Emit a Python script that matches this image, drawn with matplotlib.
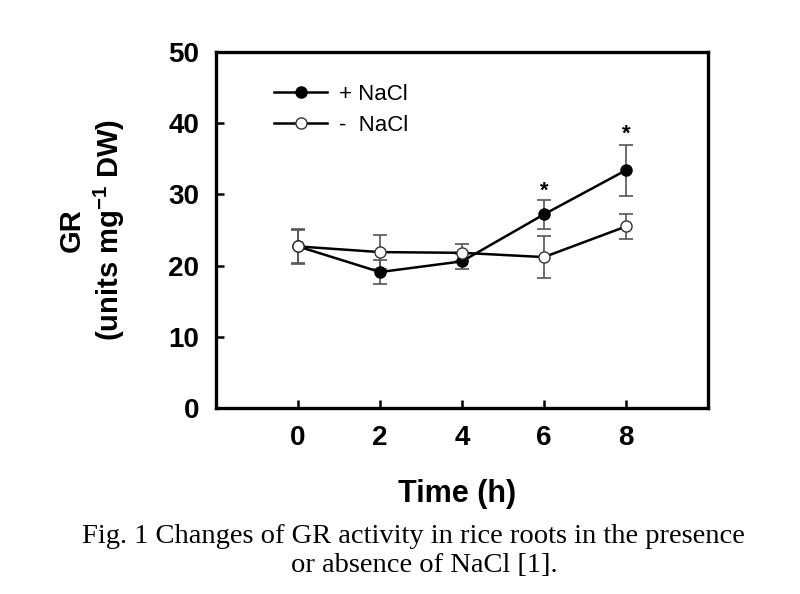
import matplotlib.pyplot as plt

# data
time_h = [0, 2, 4, 6, 8]
gr_plus = [22.7, 19.1, 20.6, 27.2, 33.4]
err_plus = [2.3, 1.7, 1.1, 2.0, 3.6]
gr_minus = [22.7, 21.9, 21.8, 21.2, 25.5]
err_minus = [2.4, 2.4, 1.2, 3.0, 1.7]
star_x = [6, 8]
star_y = [30.4, 38.5]

plt.rcParams['font.family'] = ['Liberation Sans', 'DejaVu Sans']
plt.rcParams['mathtext.fontset'] = 'custom'
plt.rcParams['mathtext.rm'] = 'Liberation Sans:bold'
plt.rcParams['mathtext.bf'] = 'Liberation Sans:bold'

fig = plt.figure(figsize=(8, 5.94), dpi=100)
ax = fig.add_axes([0.27, 0.313, 0.615, 0.5995])

# error bars first (grey), then lines with markers
ax.errorbar(time_h, gr_plus, yerr=err_plus, fmt='none', ecolor='#555555',
            elinewidth=1.2, capsize=5, capthick=1.2, zorder=2)
ax.errorbar(time_h, gr_minus, yerr=err_minus, fmt='none', ecolor='#555555',
            elinewidth=1.2, capsize=5, capthick=1.2, zorder=2)
ax.plot(time_h, gr_plus, '-o', color='black', lw=1.8, ms=8,
        mfc='black', mec='black', label='+ NaCl', zorder=3)
ax.plot(time_h, gr_minus, '-o', color='black', lw=1.8, ms=8,
        mfc='white', mec='#333333', mew=1.0, label='-  NaCl', zorder=4)

for sx, sy in zip(star_x, star_y):
    ax.text(sx, sy, '*', ha='center', va='center', fontsize=16, fontweight='bold')

ax.set_xlim(-2, 10)
ax.set_ylim(0, 50)
ax.set_xticks(time_h)
ax.set_yticks([0, 10, 20, 30, 40, 50])

for sp in ax.spines.values():
    sp.set_linewidth(2.4)

ax.tick_params(direction='in', length=6, width=1.8, labelsize=20, pad=12)
for lab in ax.get_xticklabels() + ax.get_yticklabels():
    lab.set_fontweight('bold')

ax.set_xlabel('Time (h)', fontsize=22, fontweight='bold')
ax.xaxis.set_label_coords(0.49, -0.2)
ax.set_ylabel('GR\n(units mg$^{\\mathrm{-1}}$ DW)', fontsize=21, fontweight='bold',
              linespacing=1.25)
ax.yaxis.set_label_coords(-0.18, 0.5)

ax.legend(loc='upper left', bbox_to_anchor=(0.1, 0.935), frameon=False,
          fontsize=16, handlelength=2.4, handletextpad=0.5, labelspacing=0.45,
          borderaxespad=0)

fig.text(0.517, 0.096, 'Fig. 1 Changes of GR activity in rice roots in the presence',
         ha='center', va='center', fontsize=20.5, family='Liberation Serif')
fig.text(0.53, 0.048, 'or absence of NaCl [1].',
         ha='center', va='center', fontsize=20.5, family='Liberation Serif')

fig.savefig('out.png', dpi=100, facecolor='white')
